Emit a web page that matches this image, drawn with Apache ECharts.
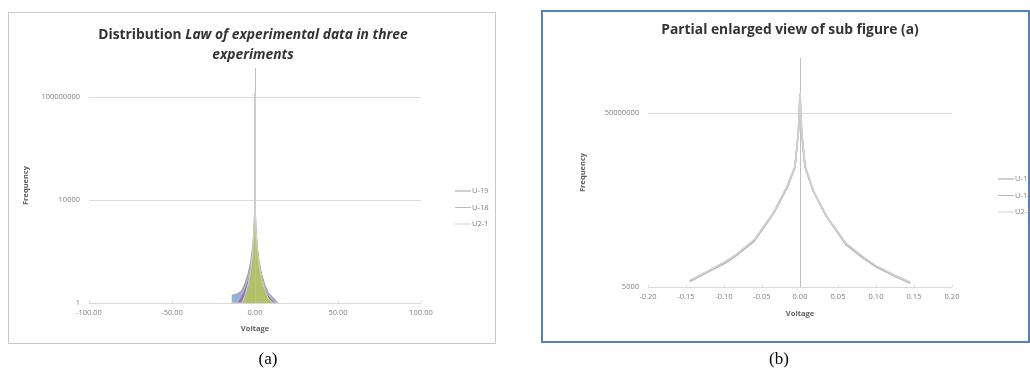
<!DOCTYPE html>
<html>
<head>
<meta charset="utf-8">
<script src="https://cdn.jsdelivr.net/npm/echarts@6/dist/echarts.min.js"></script>
<style>
html, body { margin: 0; padding: 0; background: #fff; }
#main { width: 1030px; height: 374px; }
</style>
</head>
<body>
<div id="main"></div>
<script>
// 三组实验数据：电压 - 频数
var voltage = [-14, -11, -8, -6, -4, -2.5, -1.5, -0.8, -0.4,
    -0.145, -0.125, -0.1, -0.083, -0.06, -0.049, -0.035, -0.026, -0.017, -0.0066, -0.002, 0,
    0.002, 0.0066, 0.017, 0.026, 0.035, 0.049, 0.06, 0.083, 0.1, 0.125, 0.145,
    0.4, 0.8, 1.5, 2.5, 4, 6, 8, 11, 14];

var freqU19 = [2, 2.2, 3, 6, 15, 45, 140, 500, 1800,
    6900, 10500, 18000, 28000, 60000, 113000, 250000, 500000, 1000000, 2900000, 20000000, 140000000,
    20000000, 3000000, 850000, 420000, 210000, 95000, 50000, 24000, 15000, 9000, 6300,
    1700, 480, 130, 40, 13, 5, 2.5, 1.6, 1];
var freqU18 = [1, 1, 2, 4, 10, 30, 100, 420, 1600,
    6700, 10200, 17000, 27000, 57000, 108000, 240000, 480000, 950000, 2800000, 19000000, 135000000,
    19000000, 2900000, 830000, 410000, 205000, 92000, 48000, 23000, 14500, 8800, 6100,
    1600, 450, 120, 35, 11, 4, 2, 1.2, 1];
var freqU21 = [1, 1, 1, 2, 6, 20, 80, 380, 1500,
    7100, 10800, 18500, 29000, 62000, 117000, 255000, 520000, 1050000, 3000000, 21000000, 145000000,
    21000000, 3100000, 870000, 430000, 215000, 98000, 52000, 25000, 15500, 9300, 6500,
    1500, 400, 100, 28, 8, 3, 1.5, 1, 1];

var seriesNames = ['U-19', 'U-18', 'U2-1'];
var xTicksA = [-100, 100, 50];
var xTicksB = [-0.2, 0.2, 0.05];

var allFreq = [freqU19, freqU18, freqU21];
var lineColors = ['#a0a0a0', '#b8b8b8', '#d2d2d2'];
var areaColors = ['#7fa3d6', '#9a62a6', '#b6cf5e'];

function pairs(freq, limit) {
    var out = [];
    for (var i = 0; i < voltage.length; i++) {
        if (limit == null || Math.abs(voltage[i]) <= limit) {
            out.push([voltage[i], freq[i]]);
        }
    }
    return out;
}

var axisFont = { fontFamily: 'Open Sans', fontSize: 7.5, color: '#808080' };
var nameFont = { fontFamily: 'Open Sans', fontSize: 7.5, fontWeight: 'bold', color: '#606060' };

function xAxisOf(grid, ticks, gap) {
    return {
        type: 'value', gridIndex: grid,
        min: ticks[0], max: ticks[1], interval: ticks[2],
        name: 'Voltage', nameLocation: 'middle', nameGap: gap, nameTextStyle: nameFont,
        axisLine: { lineStyle: { color: '#d9d9d9' } },
        axisTick: { show: true, inside: true, length: 2, lineStyle: { color: '#d9d9d9' } },
        axisLabel: Object.assign({ margin: 6, formatter: function(v) { return v.toFixed(2); } }, axisFont),
        splitLine: { show: false }
    };
}

// 对数轴：刻度从 min 开始，每 4 个数量级一格
function yAxisOf(grid, min, max, gap) {
    return {
        type: 'log', logBase: 10, gridIndex: grid,
        min: min, max: max, interval: 4,
        name: 'Frequency', nameLocation: 'middle', nameRotate: 90, nameGap: gap, nameTextStyle: nameFont,
        axisLine: { show: false },
        axisTick: { show: false },
        axisLabel: Object.assign({ margin: 9, showMaxLabel: false,
            formatter: function(v) { return String(Number(v.toPrecision(2))); } }, axisFont),
        splitLine: { show: true, showMaxLine: false, lineStyle: { color: '#dcdcdc' } }
    };
}

var series = [];
// (a) 全范围
allFreq.forEach(function(f, i) {
    series.push({
        name: seriesNames[i], type: 'line', xAxisIndex: 0, yAxisIndex: 0,
        data: pairs(f), symbol: 'none', z: 3 + i,
        lineStyle: { color: lineColors[i], width: 1 },
        itemStyle: { color: lineColors[i] },
        areaStyle: { color: areaColors[i], opacity: 0.85, origin: 1 },
        markLine: i === 0 ? {
            symbol: 'none', silent: true, label: { show: false },
            lineStyle: { color: '#bfbfbf', type: 'solid', width: 1 },
            data: [{ xAxis: 0 }]
        } : undefined
    });
});
// (b) 局部放大
allFreq.forEach(function(f, i) {
    series.push({
        name: seriesNames[i], type: 'line', xAxisIndex: 1, yAxisIndex: 1,
        data: pairs(f, 0.15), symbol: 'none', z: 3 + i,
        lineStyle: { color: lineColors[i], width: 1.6 },
        itemStyle: { color: lineColors[i] },
        markLine: i === 0 ? {
            symbol: 'none', silent: true, label: { show: false },
            lineStyle: { color: '#bfbfbf', type: 'solid', width: 1 },
            data: [{ xAxis: 0 }]
        } : undefined
    });
});

var legendStyle = {
    orient: 'vertical', itemWidth: 16, itemHeight: 8, itemGap: 8.5,
    icon: 'path://M0,4L16,4L16,5L0,5Z',
    textStyle: { fontFamily: 'Open Sans', fontSize: 7.5, color: '#808080', padding: [0, 0, 0, -4] },
    data: seriesNames
};

var option = {
    animation: false,
    backgroundColor: '#fff',
    title: [{
        left: 248, top: 20, textAlign: 'center',
        text: '{a|Distribution }{b|Law of experimental data in three}\n{b|experiments}',
        textStyle: {
            lineHeight: 20,
            rich: {
                a: { fontFamily: 'Open Sans', fontSize: 13.8, fontWeight: 'bold', color: '#333' },
                b: { fontFamily: 'Open Sans', fontSize: 13.8, fontWeight: 'bold', fontStyle: 'italic', color: '#333' }
            }
        }
    }, {
        left: 785, top: 18, textAlign: 'center',
        text: 'Partial enlarged view of sub figure (a)',
        textStyle: { fontFamily: 'Open Sans', fontSize: 13.8, fontWeight: 'bold', color: '#333' }
    }],
    legend: [
        Object.assign({ left: 450, top: 182 }, legendStyle),
        Object.assign({ left: 993, top: 170 }, legendStyle)
    ],
    grid: [
        { left: 89, right: 609, top: 68, bottom: 71 },
        { left: 648, right: 78, top: 58, bottom: 87 }
    ],
    xAxis: [xAxisOf(0, xTicksA, 22), xAxisOf(1, xTicksB, 23)],
    yAxis: [yAxisOf(0, 1, 1.35e9, 59), yAxisOf(1, 5000, 9.2e8, 61)],
    series: series,
    graphic: [
        { type: 'rect', shape: { x: 8.5, y: 12.5, width: 487, height: 331 },
          style: { fill: 'none', stroke: '#c8c8c8', lineWidth: 1 }, silent: true },
        { type: 'rect', shape: { x: 542, y: 11, width: 487, height: 331 },
          style: { fill: 'none', stroke: '#4f81bd', lineWidth: 2 }, silent: true },
        { type: 'text', x: 268, y: 360, silent: true,
          style: { text: '(a)', font: '17px "Liberation Serif"', fill: '#000', textAlign: 'center', textVerticalAlign: 'middle' } },
        { type: 'text', x: 779, y: 360, silent: true,
          style: { text: '(b)', font: '17px "Liberation Serif"', fill: '#000', textAlign: 'center', textVerticalAlign: 'middle' } }
    ]
};

var myChart = echarts.init(document.getElementById('main'));
myChart.setOption(option);
</script>
</body>
</html>
